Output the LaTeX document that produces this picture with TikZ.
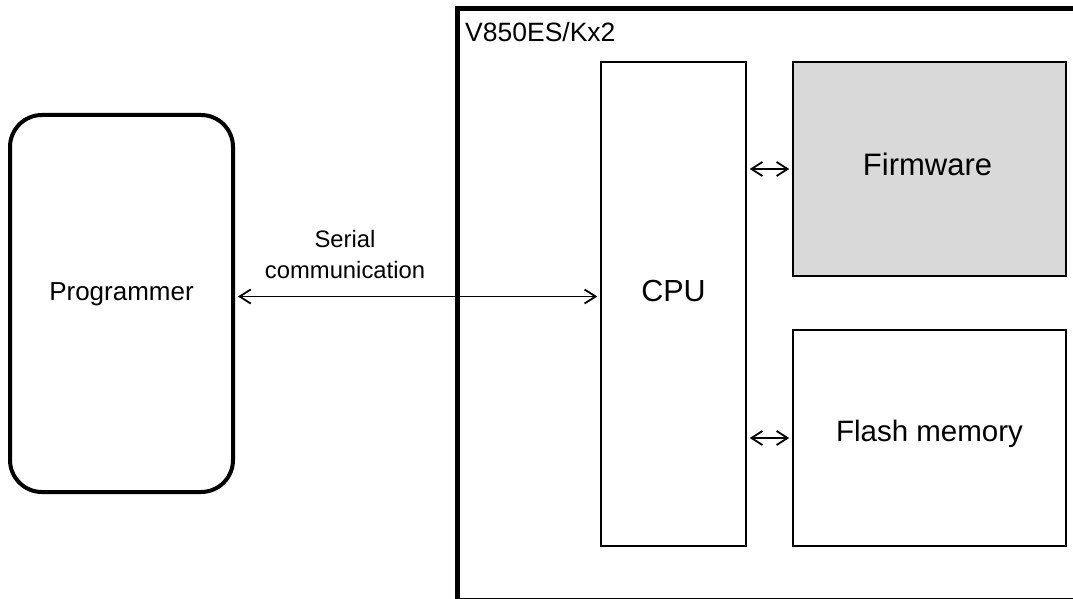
\documentclass[tikz,border=0pt]{standalone}
\usepackage{fontspec}
\setmainfont{Liberation Sans}
\usepackage{tikz}
\usetikzlibrary{arrows.meta}
\definecolor{fwgray}{RGB}{217,217,217}
\tikzset{
  blk/.style={draw, line width=1.5pt, inner sep=0pt},
  lbl/.style={inner sep=0pt},
  link/.style={line width=1.8pt, {Straight Barb[length=11pt,width=14pt]}-{Straight Barb[length=11pt,width=14pt]}, shorten <=3pt, shorten >=3pt},
}
\begin{document}
\begin{tikzpicture}[x=1pt,y=-1pt]
  \useasboundingbox (0,0) rectangle (1073,599);
  \clip (0,0) rectangle (1073,599);
  % chip frame, runs off the right and bottom edge
  \node[draw, line width=5pt, inner sep=0pt, minimum width=628pt, minimum height=592pt] (chip) at (771,304.5) {};
  \node[lbl, font=\fontsize{26.5}{30}\selectfont, anchor=base west] (chipname) at (465,42) {V850ES/Kx2};
  % programmer
  \node[draw, line width=4pt, rounded corners=32pt, minimum width=223pt, minimum height=377pt] (prog) at (121.5,303.5) {};
  \node[lbl, font=\fontsize{26}{30}\selectfont] (progtxt) at ([yshift=9pt]prog.center) {Programmer};
  % blocks inside the chip
  \node[blk, minimum width=145pt, minimum height=484pt] (cpu) at (673.5,304) {};
  \node[lbl, font=\fontsize{30.5}{34}\selectfont] (cputxt) at ([yshift=13pt]cpu.center) {CPU};
  \node[blk, fill=fwgray, minimum width=273pt, minimum height=214pt] (fw) at (929.5,169) {};
  \node[lbl, font=\fontsize{31}{35}\selectfont] (fwtxt) at ([xshift=-2pt,yshift=4.5pt]fw.center) {Firmware};
  \node[blk, minimum width=273pt, minimum height=216pt] (flash) at (929.5,438) {};
  \node[lbl, font=\fontsize{29.5}{33}\selectfont] (flashtxt) at ([yshift=4pt]flash.center) {Flash memory};
  % connections
  \node[lbl, font=\fontsize{23.8}{31}\selectfont, align=center] (serial) at (345,254) {Serial\\communication};
  \draw[link] ([yshift=7pt]prog.east) -- ([yshift=7pt]prog.east -| cpu.west);
  \draw[link] (fw.west -| cpu.east) -- (fw.west);
  \draw[link] (flash.west -| cpu.east) -- (flash.west);
\end{tikzpicture}
\end{document}
